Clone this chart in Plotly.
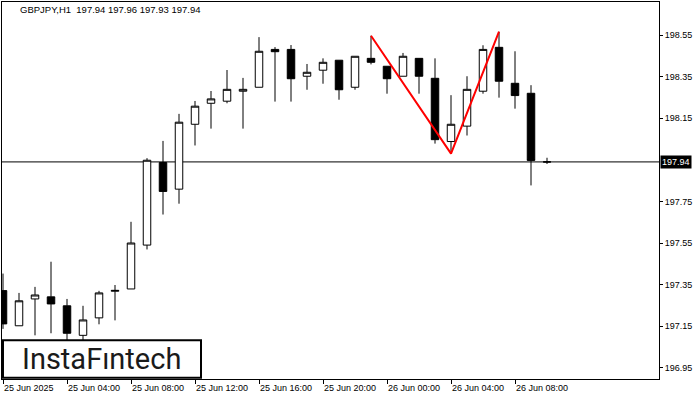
import plotly.graph_objects as go

# ---- data (GBPJPY, H1) ----
bar_index = list(range(35))
opens  = [197.321, 197.152, 197.281, 197.291, 197.248, 197.106, 197.190, 197.318, 197.329, 197.540,
          197.937, 197.809, 198.121, 198.222, 198.232, 198.280, 198.299, 198.481, 198.481, 198.352,
          198.381, 198.429, 198.299, 198.438, 198.400, 198.352, 198.438, 198.342, 198.038, 198.112,
          198.280, 198.491, 198.318, 198.270, 197.94]
highs  = [197.403, 197.310, 197.339, 197.460, 197.281, 197.248, 197.320, 197.348, 197.652, 197.958,
          198.041, 198.171, 198.233, 198.281, 198.382, 198.344, 198.540, 198.492, 198.502, 198.411,
          198.438, 198.429, 198.448, 198.547, 198.400, 198.464, 198.438, 198.438, 198.261, 198.352,
          198.501, 198.566, 198.472, 198.309, 197.96]
lows   = [197.137, 197.152, 197.106, 197.116, 197.060, 197.070, 197.159, 197.178, 197.329, 197.519,
          197.687, 197.739, 198.019, 198.100, 198.222, 198.100, 198.299, 198.230, 198.230, 198.287,
          198.316, 198.239, 198.287, 198.409, 198.268, 198.352, 198.268, 198.028, 197.980, 198.067,
          198.268, 198.249, 198.196, 197.827, 197.93]
closes = [197.161, 197.272, 197.300, 197.257, 197.116, 197.180, 197.310, 197.322, 197.550, 197.948,
          197.798, 198.131, 198.208, 198.243, 198.289, 198.289, 198.472, 198.470, 198.340, 198.371,
          198.419, 198.287, 198.448, 198.419, 198.340, 198.448, 198.352, 198.047, 198.121, 198.289,
          198.481, 198.328, 198.259, 197.947, 197.94]

x_tick_index = [0, 4, 8, 12, 16, 20, 24, 28, 32]
x_tick_labels = ["25 Jun 2025", "25 Jun 04:00", "25 Jun 08:00", "25 Jun 12:00", "25 Jun 16:00",
                 "25 Jun 20:00", "26 Jun 00:00", "26 Jun 04:00", "26 Jun 08:00"]
y_tick_values = [196.95, 197.15, 197.35, 197.55, 197.75, 198.15, 198.35, 198.55]

# double top pattern
pattern_index = [23, 28, 31]
pattern_price = [198.547, 197.980, 198.566]

current_price = 197.94
title_text = "GBPJPY,H1  197.94 197.96 197.93 197.94"
logo_text = "InstaFıntech"

FONT = "Liberation Sans"

fig = go.Figure()
fig.add_trace(go.Candlestick(
    x=bar_index, open=opens, high=highs, low=lows, close=closes,
    increasing=dict(line=dict(color="black", width=1), fillcolor="white"),
    decreasing=dict(line=dict(color="black", width=1), fillcolor="black"),
    whiskerwidth=0, showlegend=False, hoverinfo="skip",
))
fig.add_trace(go.Scatter(
    x=pattern_index, y=pattern_price, mode="lines",
    line=dict(color="#ff0000", width=2), showlegend=False, hoverinfo="skip",
))

fig.update_layout(
    width=700, height=400,
    margin=dict(l=2, r=41, t=2, b=21),
    paper_bgcolor="white", plot_bgcolor="white",
    boxgap=0.33,
    font=dict(family=FONT, size=9, color="black"),
    xaxis=dict(
        range=[-0.0625, 41], rangeslider=dict(visible=False),
        tickmode="array", tickvals=x_tick_index, ticktext=x_tick_labels,
        ticks="outside", ticklen=4, tickcolor="black", tickwidth=1,
        ticklabelposition="outside right",
        showgrid=False, zeroline=False,
        showline=True, linecolor="black", linewidth=1, mirror=True,
        tickfont=dict(family=FONT, size=9, color="black"),
    ),
    yaxis=dict(
        range=[196.896, 198.709], side="right",
        tickmode="array", tickvals=y_tick_values,
        ticktext=[f"{v:.2f}" for v in y_tick_values],
        ticks="outside", ticklen=3, tickcolor="black", tickwidth=1,
        showgrid=False, zeroline=False,
        showline=True, linecolor="black", linewidth=1, mirror=True,
        tickfont=dict(family=FONT, size=9, color="black"),
    ),
    shapes=[
        dict(type="line", xref="paper", x0=0, x1=1, yref="y",
             y0=current_price, y1=current_price,
             line=dict(color="black", width=1), layer="below"),
        dict(type="rect", xref="paper", yref="paper",
             x0=0.0015, x1=0.3029, y0=0.0034, y1=0.1027,
             line=dict(color="black", width=2), fillcolor="white", layer="above"),
    ],
    annotations=[
        dict(text=title_text, xref="paper", yref="paper", x=0.024, y=0.979,
             xanchor="left", yanchor="middle", showarrow=False,
             font=dict(family=FONT, size=9.5, color="black")),
        dict(text=f"{current_price:.2f}", xref="paper", yref="y", x=1, y=current_price,
             xanchor="left", yanchor="middle", showarrow=False, xshift=1,
             bgcolor="black", borderpad=1,
             font=dict(family=FONT, size=9, color="white")),
        dict(text=logo_text, xref="paper", yref="paper", x=0.1514, y=0.053,
             xanchor="center", yanchor="middle", showarrow=False,
             font=dict(family="Roboto", size=29, color="#1a1a1a")),
    ],
)

fig.write_html("out.html", config={"displayModeBar": False},
               post_script="document.body.style.margin='0px';document.body.style.padding='0px';")
